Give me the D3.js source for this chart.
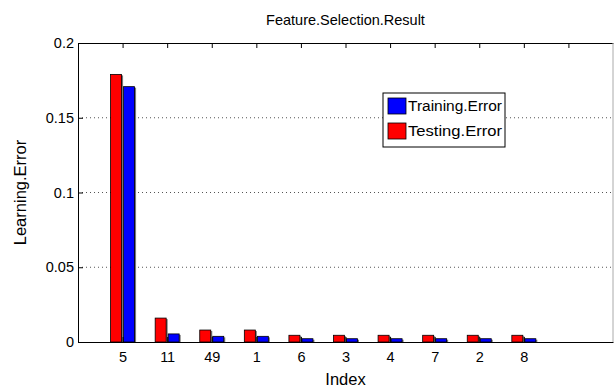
<!DOCTYPE html>
<html>
<head>
<meta charset="utf-8">
<script src="https://cdn.jsdelivr.net/npm/d3@7"></script>
<style>
  body { margin: 0; background: #fff; }
  svg text { font-family: "Liberation Sans", Arial, sans-serif; fill: #000; }
</style>
</head>
<body>
<svg id="chart" width="614" height="389"></svg>
<script>
const categories = ["5", "11", "49", "1", "6", "3", "4", "7", "2", "8"];
const testingError = [0.179, 0.016, 0.008, 0.008, 0.0045, 0.0045, 0.0045, 0.0045, 0.0045, 0.0045];
const trainingError = [0.1708, 0.0054, 0.0038, 0.0038, 0.0022, 0.0022, 0.0022, 0.0022, 0.0022, 0.0022];
const yTicks = [0, 0.05, 0.1, 0.15, 0.2];
const yTickLabels = ["0", "0.05", "0.1", "0.15", "0.2"];

let svg = d3.select("#chart");
let margin = { top: 43, bottom: 47, left: 78, right: 1 };
let width = 614 - margin.left - margin.right;
let height = 389 - margin.top - margin.bottom;

let g = svg.append("g").attr("transform", `translate(${margin.left},${margin.top})`);

// matlab style: slots 1..10 used, xlim [0, 12]
let x = d3.scaleLinear().domain([0, 12]).range([0, width]);
let y = d3.scaleLinear().domain([0, 0.2]).range([height, 0]);

// grid lines
g.selectAll(".grid")
  .data(yTicks.slice(1, 4))
  .enter()
  .append("line")
  .attr("x1", 0)
  .attr("x2", width)
  .attr("y1", (d) => y(d))
  .attr("y2", (d) => y(d))
  .attr("stroke", "#555")
  .attr("stroke-width", 1)
  .attr("stroke-dasharray", "1,3");

let barW = 11;
let gap = 2;

function drawBars(values, color, offset) {
  // gray shadow
  g.selectAll(null)
    .data(values)
    .enter()
    .append("rect")
    .attr("x", (d, i) => x(i + 1) + offset + 1.5)
    .attr("y", (d) => y(d) + 1)
    .attr("width", barW)
    .attr("height", (d) => height - y(d) - 1)
    .attr("fill", "#777");
  g.selectAll(null)
    .data(values)
    .enter()
    .append("rect")
    .attr("x", (d, i) => x(i + 1) + offset)
    .attr("y", (d) => y(d))
    .attr("width", barW)
    .attr("height", (d) => height - y(d))
    .attr("fill", color)
    .attr("stroke", "#000")
    .attr("stroke-width", 0.8);
}
drawBars(testingError, "#ff0000", -barW - gap / 2);
drawBars(trainingError, "#0000ff", gap / 2);

// axes
let yAxis = d3.axisLeft(y).tickValues(yTicks).tickFormat((d, i) => yTickLabels[i]).tickSizeInner(-5).tickSizeOuter(0).tickPadding(4);
let ya = g.append("g").call(yAxis);
ya.select(".domain").attr("stroke", "#000");
ya.selectAll("text").style("font-size", "14.5px");

let xAxis = d3.axisBottom(x).tickValues(d3.range(1, 11)).tickFormat((d) => categories[d - 1]).tickSizeInner(-5).tickSizeOuter(0).tickPadding(10);
let xa = g.append("g").attr("transform", `translate(0,${height})`).call(xAxis);
xa.select(".domain").attr("stroke", "#000");
xa.selectAll("text").style("font-size", "14.5px");

let xTop = d3.axisTop(x).tickValues(d3.range(1, 12)).tickFormat("").tickSizeInner(-5).tickSizeOuter(0);
let xt = g.append("g").call(xTop);
xt.select(".domain").attr("stroke", "#000");

g.append("line")
  .attr("x1", width).attr("x2", width)
  .attr("y1", 0).attr("y2", height)
  .attr("stroke", "#aaa");

// title and labels
svg.append("text")
  .attr("x", margin.left + width / 2)
  .attr("y", 25)
  .attr("text-anchor", "middle")
  .style("font-size", "14.5px")
  .text("Feature.Selection.Result");

svg.append("text")
  .attr("x", margin.left + width / 2)
  .attr("y", 385)
  .attr("text-anchor", "middle")
  .style("font-size", "16.5px")
  .text("Index");

svg.append("text")
  .attr("transform", `translate(26,${margin.top + height / 2}) rotate(-90)`)
  .attr("text-anchor", "middle")
  .style("font-size", "16.5px")
  .text("Learning.Error");

// legend
let legend = svg.append("g").attr("transform", "translate(383,93)");
legend.append("rect")
  .attr("width", 122).attr("height", 54)
  .attr("fill", "#fff").attr("stroke", "#000").attr("stroke-width", 1);
let legendItems = [
  { label: "Training.Error", color: "#0000ff" },
  { label: "Testing.Error", color: "#ff0000" },
];
legendItems.forEach((d, i) => {
  legend.append("rect")
    .attr("x", 5).attr("y", 5 + i * 25)
    .attr("width", 18).attr("height", 16)
    .attr("fill", d.color).attr("stroke", "#000").attr("stroke-width", 0.8);
  legend.append("text")
    .attr("x", 25).attr("y", 18 + i * 25)
    .style("font-size", "14px")
    .attr("textLength", 94)
    .attr("lengthAdjust", "spacingAndGlyphs")
    .text(d.label);
});
</script>
</body>
</html>
